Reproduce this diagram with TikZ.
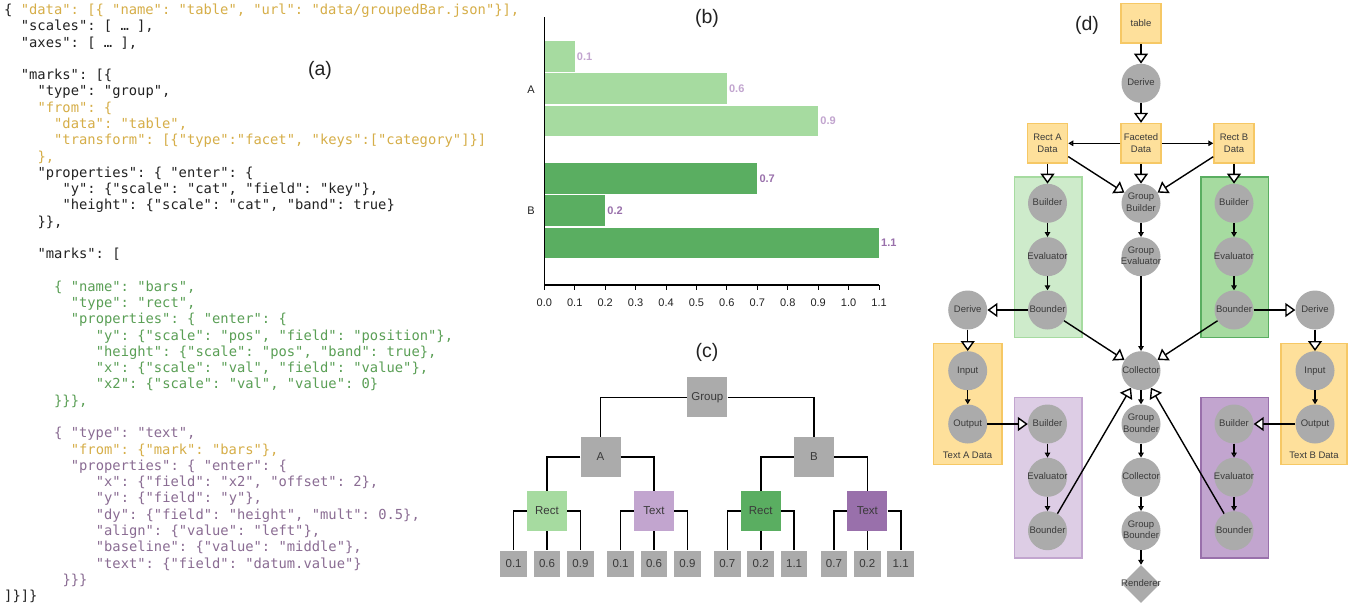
\documentclass[tikz,border=0pt]{standalone}
\usepackage{fontspec}
\setmainfont{Liberation Sans}
\setmonofont{DejaVu Sans Mono}
\usetikzlibrary{arrows.meta,shapes.geometric}
\definecolor{cgold}{HTML}{D6AE48}
\definecolor{cgreen}{HTML}{5A9F55}
\definecolor{cpurple}{HTML}{8A6C93}
\definecolor{cblack}{HTML}{222222}
\definecolor{lgreen}{HTML}{A6DBA0}
\definecolor{dgreen}{HTML}{5AAE61}
\definecolor{lpurple}{HTML}{C2A5CF}
\definecolor{dpurple}{HTML}{9970AB}
\definecolor{ngray}{HTML}{ABABAB}
\definecolor{yfill}{HTML}{FEE09B}
\definecolor{ydraw}{HTML}{F6C865}
\definecolor{tgray}{HTML}{3A3A3A}
\newcommand\codefont{\ttfamily\fontsize{13.8}{16}\selectfont\frenchspacing}
\newcommand\codeln[4]{\node[code,text=#3] (c#1) at ({4+8.33*#2},{14.5+16.28*#1}) {#4};}
\newcommand\ctx[1]{\makebox[0pt]{\begin{tabular}{@{}c@{}}#1\end{tabular}}}
\begin{document}
\begin{tikzpicture}[x=1pt,y=-1pt,
  code/.style={anchor=base west,inner sep=0pt,font=\codefont},
  plabel/.style={font=\fontsize{19.5}{20}\selectfont,text=cblack,inner sep=0pt},
  ticklab/.style={font=\fontsize{11}{12}\selectfont,text=cblack,inner sep=0pt},
  vallab/.style={font=\bfseries\fontsize{11}{12}\selectfont,inner sep=0pt,anchor=west},
  cbox/.style={rectangle,minimum size=40,inner sep=0pt,fill=ngray,text=tgray,font=\fontsize{11.5}{12}\selectfont},
  leaf/.style={cbox,minimum size=26.7},
  tline/.style={line width=1.6pt,black},
  circ/.style={circle,minimum size=39,inner sep=0pt,fill=ngray,text=tgray,font=\fontsize{9.5}{11.5}\selectfont},
  ybox/.style={rectangle,minimum width=40,minimum height=39.5,inner sep=0pt,fill=yfill,draw=ydraw,line width=1.5pt,text=tgray,font=\fontsize{9.5}{11.5}\selectfont,align=center},
  dia/.style={diamond,minimum width=38,minimum height=38,inner sep=0pt,fill=ngray,text=tgray,font=\fontsize{9.5}{11.5}\selectfont},
  big/.style={line width=1.4pt,-{Triangle[length=10pt,width=14pt,fill=white]}},
  sml/.style={line width=1.4pt,-{Triangle[length=5pt,width=5.5pt,fill=black!45]}},
  grpbox/.style={line width=1.6pt}
]
\useasboundingbox (0,0) rectangle (1348,608);
\fill[white] (0,0) rectangle (1348,608);

% ---------------- (a) code ----------------
\codeln{0}{0}{cgold}{\textcolor{cblack}{\{} "data": [\{ "name": "table", "url": "data/groupedBar.json"\}],}
\codeln{1}{2}{cblack}{"scales": [ … ],}
\codeln{2}{2}{cblack}{"axes": [ … ],}
\codeln{4}{2}{cblack}{"marks": [\{}
\codeln{5}{4}{cblack}{"type": "group",}
\codeln{6}{4}{cgold}{"from": \{}
\codeln{7}{6}{cgold}{"data": "table",}
\codeln{8}{6}{cgold}{"transform": [\{"type":"facet", "keys":["category"]\}]}
\codeln{9}{4}{cgold}{\},}
\codeln{10}{4}{cblack}{"properties": \{ "enter": \{}
\codeln{11}{7}{cblack}{"y": \{"scale": "cat", "field": "key"\},}
\codeln{12}{7}{cblack}{"height": \{"scale": "cat", "band": true\}}
\codeln{13}{4}{cblack}{\}\},}
\codeln{15}{4}{cblack}{"marks": [}
\codeln{17}{6}{cgreen}{\{ "name": "bars",}
\codeln{18}{8}{cgreen}{"type": "rect",}
\codeln{19}{8}{cgreen}{"properties": \{ "enter": \{}
\codeln{20}{11}{cgreen}{"y": \{"scale": "pos", "field": "position"\},}
\codeln{21}{11}{cgreen}{"height": \{"scale": "pos", "band": true\},}
\codeln{22}{11}{cgreen}{"x": \{"scale": "val", "field": "value"\},}
\codeln{23}{11}{cgreen}{"x2": \{"scale": "val", "value": 0\}}
\codeln{24}{6}{cgreen}{\}\}\},}
\codeln{26}{6}{cpurple}{\{ "type": "text",}
\codeln{27}{8}{cgold}{"from": \{"mark": "bars"\},}
\codeln{28}{8}{cpurple}{"properties": \{ "enter": \{}
\codeln{29}{11}{cpurple}{"x": \{"field": "x2", "offset": 2\},}
\codeln{30}{11}{cpurple}{"y": \{"field": "y"\},}
\codeln{31}{11}{cpurple}{"dy": \{"field": "height", "mult": 0.5\},}
\codeln{32}{11}{cpurple}{"align": \{"value": "left"\},}
\codeln{33}{11}{cpurple}{"baseline": \{"value": "middle"\},}
\codeln{34}{11}{cpurple}{"text": \{"field": "datum.value"\}}
\codeln{35}{7}{cpurple}{\}\}\}}
\codeln{36}{0}{cblack}{]\}]\}}
\node[plabel] (la) at (320,70) {(a)};

% ---------------- (b) bar chart ----------------
\node[plabel] (lb) at (707,18) {(b)};
\fill[lgreen] (544.3,41) rectangle (574.7,71.5);
\fill[lgreen] (544.3,73.3) rectangle (726.9,103.8);
\fill[lgreen] (544.3,105.6) rectangle (818.2,136.1);
\fill[dgreen] (544.3,163) rectangle (757.3,193.5);
\fill[dgreen] (544.3,195.3) rectangle (605.2,225.8);
\fill[dgreen] (544.3,227.6) rectangle (879.0,258.1);
\node[vallab,text=lpurple] (v1) at (576.7,56.3) {0.1};
\node[vallab,text=lpurple] (v2) at (728.9,88.6) {0.6};
\node[vallab,text=lpurple] (v3) at (820.2,120.9) {0.9};
\node[vallab,text=dpurple] (v4) at (759.3,178.3) {0.7};
\node[vallab,text=dpurple] (v5) at (607.2,210.6) {0.2};
\node[vallab,text=dpurple] (v6) at (881.0,242.9) {1.1};
\draw[line width=1.1pt,black] (544.3,17) -- (544.3,285) -- (879,285);
\foreach \i/\t in {0/0.0,1/0.1,2/0.2,3/0.3,4/0.4,5/0.5,6/0.6,7/0.7,8/0.8,9/0.9,10/1.0,11/1.1} {
  \draw[line width=1pt,black] ({544.3+30.43*\i},285) -- ({544.3+30.43*\i},289.5);
  \node[ticklab] (tk\i) at ({544.3+30.43*\i},303) {\t};
}
\node[ticklab] (ya) at (531,90) {A};
\node[ticklab] (yb) at (531,211) {B};

% ---------------- (c) tree ----------------
\node[plabel] (lc) at (707,352) {(c)};
\node[cbox] (grp) at (707.3,397.3) {Group};
\node[cbox] (nA) at (600.5,457) {A};
\node[cbox] (nB) at (814,457) {B};
\node[cbox,fill=lgreen] (rcA) at (547,511) {Rect};
\node[cbox,fill=lpurple] (txA) at (654,511) {Text};
\node[cbox,fill=dgreen] (rcB) at (760.7,511) {Rect};
\node[cbox,fill=dpurple] (txB) at (867.3,511) {Text};
\draw[tline] (grp.west) -| (nA.north);
\draw[tline] (grp.east) -| (nB.north);
\draw[tline] (nA.west) -| (rcA.north);
\draw[tline] (nA.east) -| (txA.north);
\draw[tline] (nB.west) -| (rcB.north);
\draw[tline] (nB.east) -| (txB.north);
\foreach \p/\a/\b/\c in {rcA/0.1/0.6/0.9,txA/0.1/0.6/0.9,rcB/0.7/0.2/1.1,txB/0.7/0.2/1.1} {
  \node[leaf] (\p L1) at ([xshift=-33.4pt,yshift=-53pt]\p) {\a};
  \node[leaf] (\p L2) at ([yshift=-53pt]\p) {\b};
  \node[leaf] (\p L3) at ([xshift=33.4pt,yshift=-53pt]\p) {\c};
  \draw[tline] (\p.west) -| (\p L1.north);
  \draw[tline] (\p) -- (\p L2);
  \draw[tline] (\p.east) -| (\p L3.north);
}

% ---------------- (d) dataflow ----------------
\node[plabel] (ld) at (1087,25) {(d)};
\filldraw[grpbox,fill=lgreen!55,draw=lgreen] (1014.3,176.7) rectangle (1081.7,337.3);
\filldraw[grpbox,fill=lgreen,draw=dgreen] (1200.7,176.7) rectangle (1268.3,337.3);
\filldraw[grpbox,fill=yfill,draw=ydraw] (933.3,343.3) rectangle (1001.7,464.3);
\filldraw[grpbox,fill=yfill,draw=ydraw] (1280.7,343.3) rectangle (1346.8,464.3);
\filldraw[grpbox,fill=lpurple!55,draw=lpurple] (1014.3,397.3) rectangle (1081.7,557.7);
\filldraw[grpbox,fill=lpurple,draw=dpurple] (1200.7,397.3) rectangle (1268.3,557.7);
\node[text=tgray,font=\fontsize{9.5}{11.5}\selectfont] (tAl) at (967.5,455.7) {Text A Data};
\node[text=tgray,font=\fontsize{9.5}{11.5}\selectfont] (tBl) at (1314,455.7) {Text B Data};

\node[ybox] (table) at (1141,23.3) {table};
\node[circ] (der0) at (1141,83.3) {\ctx{Derive}};
\node[ybox] (fac) at (1141,143.3) {Faceted\\Data};
\node[ybox] (rA) at (1047.5,143.3) {Rect A\\Data};
\node[ybox] (rB) at (1234,143.3) {Rect B\\Data};
\node[circ] (gb) at (1141,203.3) {\ctx{Group\\Builder}};
\node[circ] (ge) at (1141,256.7) {\ctx{Group\\Evaluator}};
\node[circ] (aB1) at (1047.5,203.3) {\ctx{Builder}};
\node[circ] (aE1) at (1047.5,256.7) {\ctx{Evaluator}};
\node[circ] (aO1) at (1047.5,310) {\ctx{Bounder}};
\node[circ] (bB1) at (1234,203.3) {\ctx{Builder}};
\node[circ] (bE1) at (1234,256.7) {\ctx{Evaluator}};
\node[circ] (bO1) at (1234,310) {\ctx{Bounder}};
\node[circ] (dL) at (967.7,310) {\ctx{Derive}};
\node[circ] (dR) at (1315,310) {\ctx{Derive}};
\node[circ] (iL) at (967.7,370.7) {\ctx{Input}};
\node[circ] (oL) at (967.7,424) {\ctx{Output}};
\node[circ] (iR) at (1315,370.7) {\ctx{Input}};
\node[circ] (oR) at (1315,424) {\ctx{Output}};
\node[circ] (col) at (1141,370.7) {\ctx{Collector}};
\node[circ] (gbd1) at (1141,424) {\ctx{Group\\Bounder}};
\node[circ] (col2) at (1141,477.3) {\ctx{Collector}};
\node[circ] (gbd2) at (1141,530.7) {\ctx{Group\\Bounder}};
\node[dia] (rend) at (1141,584) {\ctx{Renderer}};
\node[circ] (aB2) at (1047.5,424) {\ctx{Builder}};
\node[circ] (aE2) at (1047.5,477.3) {\ctx{Evaluator}};
\node[circ] (aO2) at (1047.5,530.7) {\ctx{Bounder}};
\node[circ] (bB2) at (1234,424) {\ctx{Builder}};
\node[circ] (bE2) at (1234,477.3) {\ctx{Evaluator}};
\node[circ] (bO2) at (1234,530.7) {\ctx{Bounder}};

\draw[big] (table) -- (der0);
\draw[big] (der0) -- (fac);
\draw[sml] (fac) -- (rA);
\draw[sml] (fac) -- (rB);
\draw[big] (fac) -- (gb);
\draw[big] (rA) -- (gb);
\draw[big] (rB) -- (gb);
\draw[big] (rA) -- (aB1);
\draw[big] (rB) -- (bB1);
\draw[sml] (aB1) -- (aE1);
\draw[sml] (aE1) -- (aO1);
\draw[sml] (bB1) -- (bE1);
\draw[sml] (bE1) -- (bO1);
\draw[sml] (gb) -- (ge);
\draw[sml] (ge) -- (col);
\draw[big] (aO1) -- (dL);
\draw[big] (bO1) -- (dR);
\draw[big] (aO1) -- (col);
\draw[big] (bO1) -- (col);
\draw[big] (dL) -- (iL);
\draw[big] (dR) -- (iR);
\draw[sml] (iL) -- (oL);
\draw[sml] (iR) -- (oR);
\draw[big] (oL) -- (aB2);
\draw[big] (oR) -- (bB2);
\draw[sml] (aB2) -- (aE2);
\draw[sml] (aE2) -- (aO2);
\draw[sml] (bB2) -- (bE2);
\draw[sml] (bE2) -- (bO2);
\draw[big] (aO2) -- (col);
\draw[big] (bO2) -- (col);
\draw[sml] (col) -- (gbd1);
\draw[sml] (gbd1) -- (col2);
\draw[sml] (col2) -- (gbd2);
\draw[sml] (gbd2) -- (rend);
\end{tikzpicture}
\end{document}
